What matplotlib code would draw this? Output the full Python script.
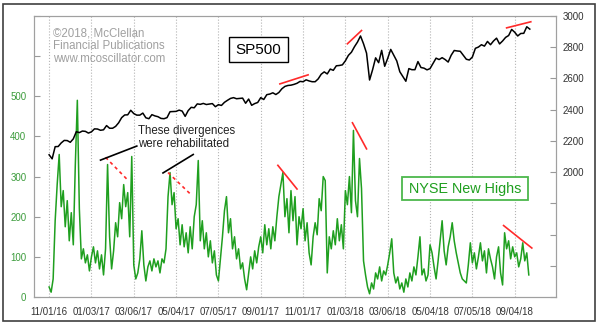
import numpy as np
import matplotlib
matplotlib.use("Agg")
import matplotlib.pyplot as plt
from matplotlib.patches import Rectangle

plt.rcParams['font.family'] = ['Liberation Sans', 'DejaVu Sans']

# trading day index 0 = 11/01/16, one value every 2 days (new highs) / 3 days (SP500)
tick_labels = ["11/01/16", "01/03/17", "03/06/17", "05/04/17", "07/05/17", "09/01/17",
	"11/01/17", "01/03/18", "03/06/18", "05/04/18", "07/05/18", "09/04/18"]
tick_days = [0, 42, 84, 126, 168, 210, 252, 294, 336, 378, 420, 462]

new_highs = [
	25, 12, 45, 190, 280, 355, 225, 265, 175, 240, 140, 210, 130, 330, 490, 220,
	95, 120, 85, 105, 65, 100, 125, 85, 115, 70, 105, 55, 120, 330, 150, 70,
	115, 185, 150, 235, 195, 280, 225, 260, 150, 350, 80, 45, 60, 95, 165, 80,
	40, 75, 90, 65, 95, 75, 90, 60, 95, 85, 120, 250, 310, 230, 260, 170,
	195, 130, 180, 125, 160, 110, 175, 120, 200, 230, 340, 140, 190, 120, 160, 100,
	140, 85, 115, 55, 40, 95, 150, 215, 250, 160, 195, 120, 150, 95, 120, 70,
	85, 45, 18, 60, 100, 70, 115, 85, 125, 150, 110, 180, 130, 170, 120, 175,
	140, 200, 250, 280, 310, 200, 245, 160, 265, 190, 250, 130, 200, 170, 220, 140,
	185, 110, 80, 150, 185, 155, 245, 215, 300, 290, 60, 150, 120, 165, 130, 195,
	140, 180, 120, 265, 230, 300, 210, 415, 240, 200, 345, 270, 90, 55, 25, 8,
	35, 20, 60, 45, 75, 40, 65, 55, 80, 110, 145, 60, 35, 50, 20, 35,
	12, 45, 25, 60, 40, 75, 55, 100, 150, 55, 70, 40, 55, 130, 110, 75,
	45, 90, 140, 190, 115, 80, 125, 150, 185, 140, 110, 85, 60, 45, 40, 35,
	80, 135, 85, 110, 70, 100, 135, 90, 115, 60, 120, 95, 75, 45, 100, 125,
	60, 30, 160, 120, 140, 95, 125, 100, 110, 75, 95, 135, 90, 110, 55]

sp500 = [
	2111, 2085, 2163, 2164, 2187, 2203, 2202, 2191, 2213, 2259, 2253, 2263, 2261, 2250,
	2258, 2277, 2276, 2268, 2271, 2298, 2281,
	2281, 2293, 2316, 2349, 2366, 2367,
	2396, 2375, 2365, 2365, 2378, 2348, 2342, 2368,
	2360, 2355, 2344, 2342, 2349, 2387, 2388,
	2389, 2397, 2391, 2357, 2394, 2415, 2412,
	2437, 2434, 2440, 2433, 2436, 2439, 2419,
	2432, 2427, 2447, 2460, 2472, 2477, 2470,
	2472, 2474, 2441, 2468, 2428, 2439, 2446,
	2477, 2465, 2496, 2500, 2508, 2497, 2510,
	2534, 2549, 2555, 2557, 2562, 2569, 2581,
	2579, 2591, 2584, 2579, 2579, 2597, 2627,
	2642, 2629, 2660, 2652, 2681, 2683, 2687,
	2713, 2748, 2768, 2803, 2833, 2872, 2822,
	2762, 2590, 2656, 2732, 2701, 2780, 2678,
	2729, 2786, 2749, 2712, 2643, 2612, 2582,
	2663, 2656, 2656, 2708, 2670, 2666, 2655,
	2663, 2697, 2730, 2721, 2733, 2721, 2705,
	2749, 2779, 2776, 2774, 2749, 2723, 2718,
	2737, 2793, 2801, 2816, 2807, 2837, 2816,
	2840, 2858, 2821, 2840, 2863, 2875, 2914,
	2896, 2872, 2888, 2889, 2931, 2916]

GREEN = '#1f9f1f'
RED = '#ff2a2a'

fig = plt.figure(figsize=(5.98, 3.26), dpi=100)
ax = fig.add_axes([34 / 598, 29 / 326, 522 / 598, 281 / 326])
ax2 = ax.twinx()

nh_x = np.arange(len(new_highs)) * 2
sp_x = np.arange(len(sp500)) * 3
ax.plot(nh_x, new_highs, color=GREEN, lw=1.1, zorder=3)
ax2.plot(sp_x, sp500, color='black', lw=1.1, zorder=3)

ax.set_xlim(-15, 503)
ax.set_ylim(0, 700)
ax2.set_ylim(1200, 3000)

ax.set_xticks(tick_days)
ax.set_xticklabels(tick_labels)
ax.set_yticks(range(0, 701, 100))
ax.set_yticklabels([str(v) if v <= 500 else '' for v in range(0, 701, 100)])
ax2.set_yticks(range(1200, 3001, 200))
ax2.set_yticklabels([str(v) if v >= 2000 else '' for v in range(1200, 3001, 200)])

ax.grid(axis='x', linestyle=':', color='#b4b4b4', lw=0.8)
ax.tick_params(axis='x', length=0, pad=7, labelsize=7, labelcolor='#333333')
ax.tick_params(axis='y', direction='in', length=4.3, width=0.8, color='#999999',
	pad=5.5, labelsize=7, labelcolor='#3c9c3c')
ax2.tick_params(axis='y', direction='in', length=4.3, width=0.8, color='#999999',
	pad=4.8, labelsize=7, labelcolor='#333333')
for a in (ax, ax2):
	for sp in a.spines.values():
		sp.set_color('#a0a0a0')
		sp.set_linewidth(0.8)

# divergence lines on the index
for (x0, y0), (x1, y1) in [((229, 2565), (257, 2623)), ((296, 2822), (310, 2907)),
		((454, 2924), (478, 2963))]:
	ax2.plot([x0, x1], [y0, y1], color=RED, lw=1.2, zorder=4)

# divergence lines on new highs
for (x0, y0), (x1, y1) in [((227, 328), (246, 269)), ((301, 434), (315, 369)),
		((451, 178), (479, 122))]:
	ax.plot([x0, x1], [y0, y1], color=RED, lw=1.2, zorder=4)
for (x0, y0), (x1, y1) in [((56, 348), (77, 294)), ((118, 310), (140, 257))]:
	ax.plot([x0, x1], [y0, y1], color=RED, lw=1.2, dashes=(2, 2), zorder=4)

# pointers from the note to the two peaks
for (x0, y0), (x1, y1) in [((51, 341), (87, 376)), ((113, 309), (143, 355))]:
	ax.plot([x0, x1], [y0, y1], color='black', lw=1.2, zorder=4)

fig.text(138 / 598, 1 - 125 / 326, "These divergences\nwere rehabilitated",
	fontsize=8.3, color='#222222', va='top', linespacing=1.15)

fig.text(53 / 598, 1 - 27 / 326,
	"\u00a92018, McClellan\nFinancial Publications\nwww.mcoscillator.com",
	fontsize=8.3, color='#a0a0a0', va='top', linespacing=1.12)

# title boxes
fig.add_artist(Rectangle((229 / 598, 1 - 62 / 326), 59 / 598, 25 / 326,
	transform=fig.transFigure, facecolor='white', edgecolor='black', lw=1.0, zorder=5))
fig.text(258.5 / 598, 1 - 49.5 / 326, "SP500", fontsize=11, color='black',
	ha='center', va='center', zorder=6)
fig.add_artist(Rectangle((402 / 598, 1 - 200 / 326), 126 / 598, 23 / 326,
	transform=fig.transFigure, facecolor='white', edgecolor='#4cb84c', lw=1.3, zorder=5))
fig.text(465 / 598, 1 - 188.7 / 326, "NYSE New Highs", fontsize=10.4, color=GREEN,
	ha='center', va='center', zorder=6)

# outer frame
fig.add_artist(Rectangle((3 / 598, 5 / 326), 592 / 598, 317 / 326,
	transform=fig.transFigure, facecolor='none', edgecolor='#404040', lw=1.2))

fig.savefig('out.png', dpi=100)
